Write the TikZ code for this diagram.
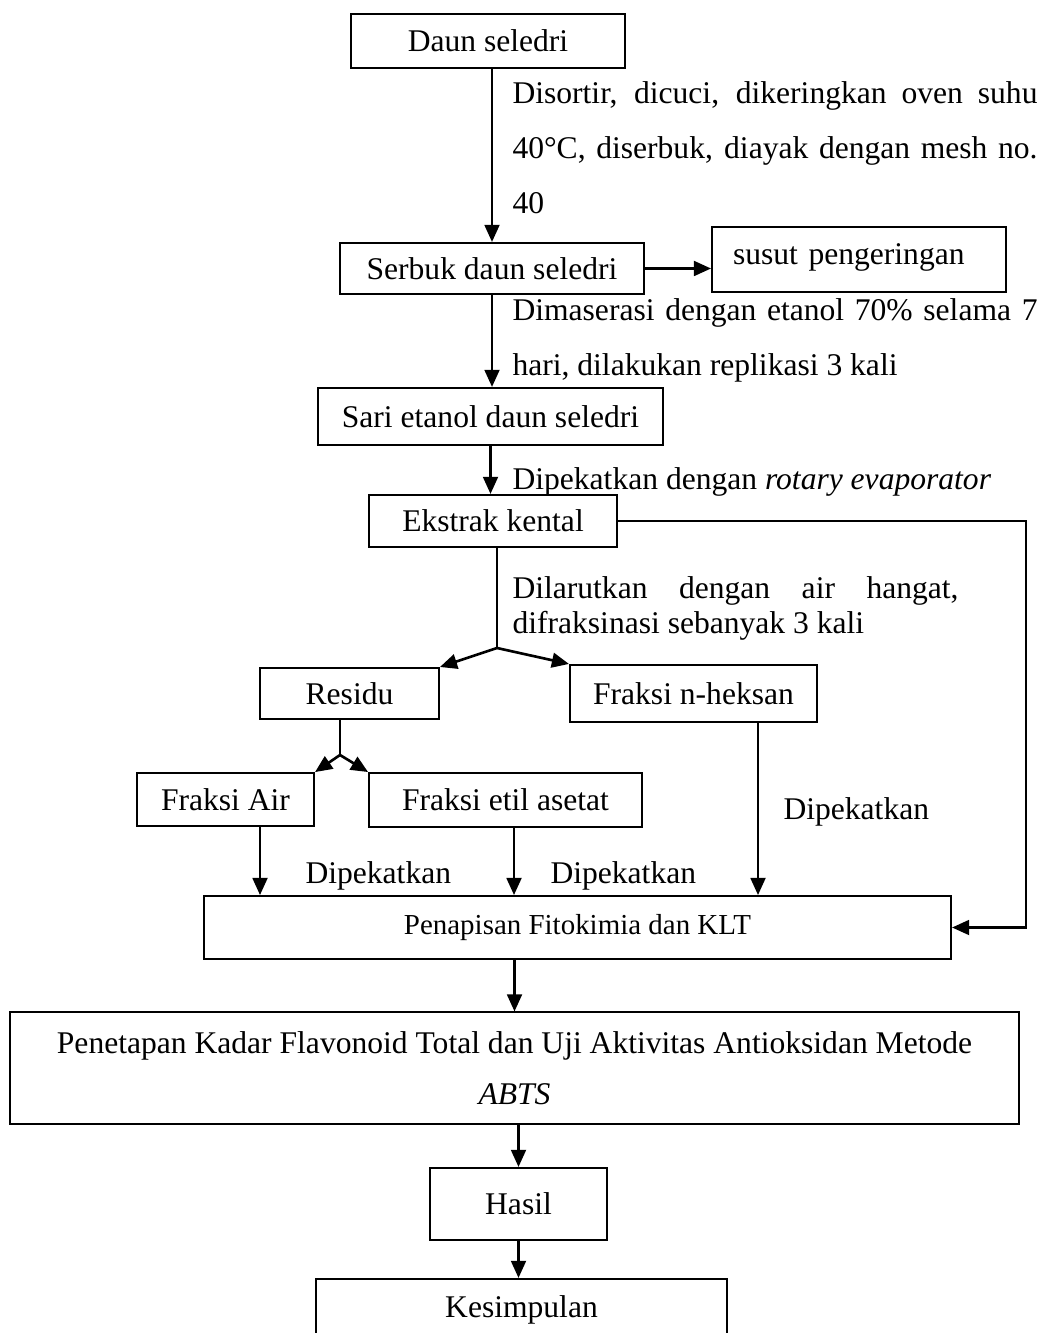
\documentclass[tikz,border=0pt]{standalone}
\usepackage{fontspec}
\setmainfont{Liberation Serif}
\usetikzlibrary{arrows.meta}
\hyphenpenalty=10000
\tikzset{box/.style={draw, line width=0.75pt, inner sep=0pt, font=\fontsize{12}{14}\selectfont}}
\tikzset{flow/.style={line width=1pt, -{Triangle[length=6.5pt,width=5.6pt]}}}
\tikzset{link/.style={line width=1pt}}
\tikzset{note/.style={anchor=base west, inner sep=0pt, align=justify, font=\fontsize{12}{20.9}\selectfont}}
\tikzset{tag/.style={anchor=base west, inner sep=0pt, font=\fontsize{12}{14}\selectfont}}

\begin{document}
\begin{tikzpicture}[x=0.38pt, y=-0.38pt]
\useasboundingbox (0,0) rectangle (1044,1333);
\clip (0,0) rectangle (1044,1333);

\node[box, minimum width=104.1pt, minimum height=20.5pt] (daun) at (488,41) {Daun seledri};
\node[box, minimum width=115.5pt, minimum height=19.4pt] (serbuk) at (492,268.5) {Serbuk daun seledri};
\node[box, minimum width=111.7pt, minimum height=24.7pt, inner xsep=8pt, text width=95.7pt, align=left, text height=14.4pt, text depth=10.3pt] (susut) at (859,259.5) {susut pengeringan};
\node[box, minimum width=131.1pt, minimum height=21.7pt] (sari) at (490.5,416.5) {Sari etanol daun seledri};
\node[box, minimum width=94.2pt, minimum height=19.8pt] (ekstrak) at (493,521) {Ekstrak kental};
\node[box, minimum width=68pt, minimum height=19.4pt] (residu) at (349.5,693.5) {Residu};
\node[box, minimum width=93.9pt, minimum height=21.7pt] (heksan) at (693.5,693.5) {Fraksi n-heksan};
\node[box, minimum width=67.3pt, minimum height=20.1pt] (air) at (225.5,799.5) {Fraksi Air};
\node[box, minimum width=103.7pt, minimum height=20.5pt] (etil) at (505.5,800) {Fraksi etil asetat};
\node[box, minimum width=283.9pt, minimum height=23.9pt, font=\fontsize{11}{13}\selectfont] (penapisan) at (577.5,927.5) {Penapisan Fitokimia dan KLT};
\node[box, minimum width=383.4pt, minimum height=42.2pt, align=center, font=\fontsize{12}{19.4}\selectfont] (penetapan) at (514.5,1068) {Penetapan Kadar Flavonoid Total dan Uji Aktivitas Antioksidan Metode\\ \textit{ABTS}};
\node[box, minimum width=67.3pt, minimum height=27.4pt] (hasil) at (518.5,1204) {Hasil};
\node[box, minimum width=156.2pt, minimum height=23.6pt] (kesimpulan) at (521.5,1310) {Kesimpulan};

\node[note, text width=199.5pt] (lbl1) at (512,104) {Disortir, dicuci, dikeringkan oven suhu\linebreak 40°C, diserbuk, diayak dengan mesh no.\linebreak 40};
\node[note, text width=199.5pt] (lbl2) at (512,321) {Dimaserasi dengan etanol 70\% selama 7\linebreak hari, dilakukan replikasi 3 kali};
\node[tag] (lbl3) at (512,489) {Dipekatkan dengan \textit{rotary evaporator}};
\node[note, text width=169.5pt, font=\fontsize{12}{13.3}\selectfont] (lbl4) at (512,598) {Dilarutkan dengan air hangat,\linebreak difraksinasi sebanyak 3 kali};
\node[tag] (pek1) at (305,883) {Dipekatkan};
\node[tag] (pek2) at (550,883) {Dipekatkan};
\node[tag] (pek3) at (783,819) {Dipekatkan};

\coordinate (split1) at (497,648);
\coordinate (split2) at (340,755);
\coordinate (rside) at (1026,700);
\coordinate (airdrop) at ([shift={(34.5,0)}]air.south);
\coordinate (etildrop) at ([shift={(8.5,0)}]etil.south);
\coordinate (heksandrop) at ([shift={(64.5,0)}]heksan.south);

\draw[flow] (daun.south -| serbuk.north) -- (serbuk.north);
\draw[flow] (serbuk.east) -- (serbuk.east -| susut.west);
\draw[flow] (serbuk.south) -- (serbuk.south |- sari.north);
\draw[flow] (sari.south) -- (sari.south |- ekstrak.north);
\draw[flow] (ekstrak.east) -| (rside) |- (penapisan.east);
\draw[link] (ekstrak.south -| split1) -- (split1);
\draw[flow] (split1) -- (residu.north east);
\draw[flow] (split1) -- (heksan.north west);
\draw[link] (residu.south -| split2) -- (split2);
\draw[flow] (split2) -- (air.north east);
\draw[flow] (split2) -- (etil.north west);
\draw[flow] (airdrop) -- (airdrop |- penapisan.north);
\draw[flow] (etildrop) -- (etildrop |- penapisan.north);
\draw[flow] (heksandrop) -- (heksandrop |- penapisan.north);
\draw[flow] (penapisan.south -| penetapan.north) -- (penetapan.north);
\draw[flow] (penetapan.south -| hasil.north) -- (hasil.north);
\draw[flow] (hasil.south) -- (hasil.south |- kesimpulan.north);
\end{tikzpicture}
\end{document}
